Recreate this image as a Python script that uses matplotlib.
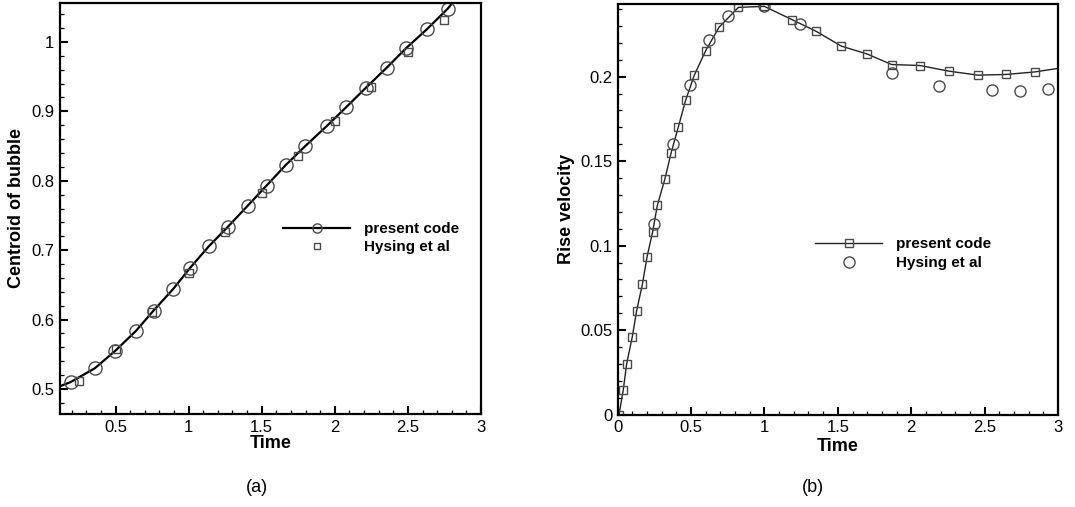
import numpy as np
import matplotlib
matplotlib.use('Agg')
import matplotlib.pyplot as plt
from matplotlib.ticker import MultipleLocator, FuncFormatter

plt.rcParams['font.family'] = ['Liberation Sans', 'DejaVu Sans']

# (a) centroid of bubble
cen_t = [0.12, 0.193, 0.359, 0.498, 0.641, 0.760, 0.894, 1.012, 1.140, 1.270, 1.404,
         1.533, 1.666, 1.798, 1.946, 2.078, 2.213, 2.356, 2.488, 2.629, 2.773, 2.82]
cen_y = [0.504, 0.510, 0.530, 0.555, 0.584, 0.613, 0.644, 0.675, 0.706, 0.734, 0.764,
         0.793, 0.823, 0.850, 0.879, 0.906, 0.934, 0.963, 0.991, 1.018, 1.048, 1.060]
hys_cen_t = [0.25, 0.50, 0.75, 1.00, 1.25, 1.50, 1.75, 2.00, 2.25, 2.50, 2.75]
hys_cen_y = [0.511, 0.557, 0.611, 0.667, 0.726, 0.783, 0.835, 0.886, 0.935, 0.985, 1.031]

# (b) rise velocity
vel_t = [0.009, 0.038, 0.061, 0.099, 0.129, 0.168, 0.200, 0.238, 0.270, 0.322, 0.363,
         0.413, 0.463, 0.522, 0.599, 0.690, 0.822, 0.999, 1.189, 1.353, 1.523, 1.700,
         1.866, 2.059, 2.255, 2.454, 2.645, 2.841, 3.0]
vel_v = [0.0, 0.0147, 0.0301, 0.0459, 0.0615, 0.0771, 0.0934, 0.1082, 0.1238, 0.1396,
         0.1546, 0.1702, 0.1861, 0.2009, 0.2153, 0.2292, 0.2410, 0.2416, 0.2337, 0.2268,
         0.2181, 0.2134, 0.2072, 0.2066, 0.2033, 0.2009, 0.2013, 0.2028, 0.2049]
hys_vel_t = [0.249, 0.375, 0.495, 0.624, 0.754, 0.999, 1.242, 1.866, 2.191, 2.548, 2.743, 2.933]
hys_vel_v = [0.1129, 0.1600, 0.1950, 0.2218, 0.2361, 0.2416, 0.2311, 0.2021, 0.1942,
             0.1922, 0.1916, 0.1930]

W, H = 1075, 507
fig = plt.figure(figsize=(W / 100, H / 100), dpi=100)
ax1 = fig.add_axes([60 / W, 1 - 414 / H, 421 / W, 411 / H])
ax2 = fig.add_axes([617.7 / W, 1 - 414.7 / H, 440.3 / W, 410.7 / H])

fmt = FuncFormatter(lambda v, p: '%g' % round(v, 4))
mk = '#4a4a4a'


def style(ax):
    for s in ax.spines.values():
        s.set_linewidth(1.6)
    ax.tick_params(which='both', direction='in', top=False, right=False, labelsize=12)
    ax.tick_params(which='major', length=6, width=1.5, pad=4)
    ax.tick_params(which='minor', length=3, width=0.9)
    ax.xaxis.set_major_formatter(fmt)
    ax.yaxis.set_major_formatter(fmt)


# CENTROID
ax1.plot(cen_t, cen_y, '-', color='black', lw=1.6, marker='o', ms=9.5,
         mfc='none', mec=mk, mew=1.0, markevery=list(range(1, len(cen_t) - 1)),
         label='present code')
ax1.plot(hys_cen_t, hys_cen_y, 's', ms=6, mfc='none', mec=mk, mew=1.0,
         label='Hysing et al')
ax1.set_xlim(0.12, 3)
ax1.set_ylim(0.464, 1.056)
ax1.xaxis.set_major_locator(MultipleLocator(0.5))
ax1.xaxis.set_minor_locator(MultipleLocator(0.1))
ax1.yaxis.set_major_locator(MultipleLocator(0.1))
ax1.yaxis.set_minor_locator(MultipleLocator(0.02))
style(ax1)
ax1.set_xlabel('Time', fontsize=13, fontweight='bold')
ax1.set_ylabel('Centroid of bubble', fontsize=13, fontweight='bold')
ax1.xaxis.set_label_coords(0.5, -0.052)
ax1.yaxis.set_label_coords(-0.083, 0.5)
ax1.legend(loc='upper left', bbox_to_anchor=(0.53, 0.466), frameon=False,
           borderpad=0, borderaxespad=0, handlelength=4.4, handletextpad=0.9,
           labelspacing=0.25, markerscale=0.7,
           prop={'size': 11, 'weight': 'bold'})

# VELOCITY
ax2.plot(vel_t, vel_v, '-', color='#222222', lw=1.0, marker='s', ms=5.5,
         mfc='none', mec=mk, mew=1.0, markevery=list(range(len(vel_t) - 1)),
         label='present code')
ax2.plot(hys_vel_t, hys_vel_v, 'o', ms=8, mfc='none', mec=mk, mew=1.0,
         label='Hysing et al')
ax2.set_xlim(0, 3)
ax2.set_ylim(0, 0.243)
ax2.xaxis.set_major_locator(MultipleLocator(0.5))
ax2.xaxis.set_minor_locator(MultipleLocator(0.1))
ax2.yaxis.set_major_locator(MultipleLocator(0.05))
ax2.yaxis.set_minor_locator(MultipleLocator(0.01))
style(ax2)
ax2.set_xlabel('Time', fontsize=13, fontweight='bold')
ax2.set_ylabel('Rise velocity', fontsize=13, fontweight='bold')
ax2.xaxis.set_label_coords(0.5, -0.057)
ax2.yaxis.set_label_coords(-0.097, 0.5)
ax2.legend(loc='upper left', bbox_to_anchor=(0.448, 0.432), frameon=False,
           borderpad=0, borderaxespad=0, handlelength=4.4, handletextpad=0.9,
           labelspacing=0.3, markerscale=1.0,
           prop={'size': 11, 'weight': 'bold'})

fig.text(257 / W, 1 - 488 / H, '(a)', ha='center', va='center', fontsize=13)
fig.text(813 / W, 1 - 488 / H, '(b)', ha='center', va='center', fontsize=13)

fig.savefig('out.png', dpi=100)
